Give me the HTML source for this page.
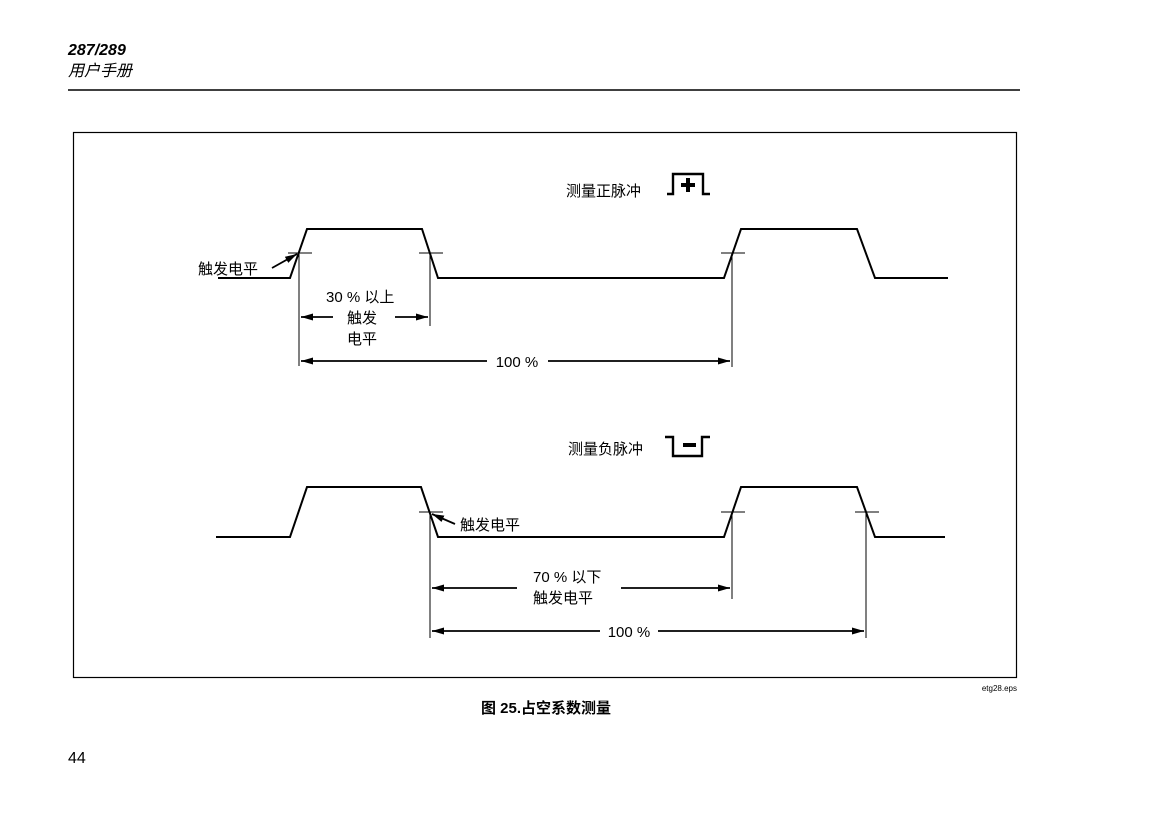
<!DOCTYPE html>
<html><head><meta charset="utf-8"><style>
body{margin:0;background:#fff;width:1164px;height:811px;overflow:hidden}
svg text{font-family:"Liberation Sans","Noto Sans CJK SC",sans-serif;fill:#000}
</style></head><body>
<svg width="1164" height="811" viewBox="0 0 1164 811" xmlns="http://www.w3.org/2000/svg">
<defs><marker id="a" markerWidth="12" markerHeight="7" refX="12" refY="3.5" orient="auto-start-reverse" markerUnits="userSpaceOnUse"><path d="M0,0 L12,3.5 L0,7 z" fill="#000"/></marker></defs>
<text x="68" y="55" font-size="16" font-weight="bold" font-style="italic">287/289</text>
<text x="68" y="76" font-size="16" font-style="italic">用户手册</text>
<line x1="68" y1="90" x2="1020" y2="90" stroke="#000" stroke-width="1.5"/>
<rect x="73.5" y="132.5" width="943" height="545" fill="none" stroke="#000" stroke-width="1.2"/>
<g fill="none" stroke="#000" stroke-width="2">
<polyline points="218,278 290,278 307,229 422,229 438,278 724,278 741,229 857,229 875,278 948,278"/>
<polyline points="216,537 290,537 307,487 421,487 438,537 724,537 741,487 857,487 875,537 945,537"/>
</g>
<g stroke="#000" stroke-width="1">
<line x1="288" y1="253" x2="312" y2="253"/><line x1="419" y1="253" x2="443" y2="253"/><line x1="721" y1="253" x2="745" y2="253"/>
<line x1="299" y1="253" x2="299" y2="366"/><line x1="430" y1="253" x2="430" y2="326"/><line x1="732" y1="253" x2="732" y2="367"/>
<line x1="419" y1="512" x2="443" y2="512"/><line x1="721" y1="512" x2="745" y2="512"/><line x1="855" y1="512" x2="879" y2="512"/>
<line x1="430" y1="512" x2="430" y2="638"/><line x1="732" y1="512" x2="732" y2="599"/><line x1="866" y1="512" x2="866" y2="638"/>
</g>
<g stroke="#000" stroke-width="1.8" marker-end="url(#a)">
<line x1="272" y1="268" x2="297" y2="254"/>
<line x1="333" y1="317" x2="301" y2="317"/><line x1="395" y1="317" x2="428" y2="317"/>
<line x1="487" y1="361" x2="301" y2="361"/><line x1="548" y1="361" x2="730" y2="361"/>
<line x1="455" y1="524" x2="432" y2="514"/>
<line x1="517" y1="588" x2="432" y2="588"/><line x1="621" y1="588" x2="730" y2="588"/>
<line x1="600" y1="631" x2="432" y2="631"/><line x1="658" y1="631" x2="864" y2="631"/>
</g>
<text x="198" y="274" font-size="15">触发电平</text>
<text x="326" y="302" font-size="15">30 % 以上</text>
<text x="347" y="323" font-size="15">触发</text>
<text x="347" y="344" font-size="15">电平</text>
<text x="517" y="367" font-size="15" text-anchor="middle">100 %</text>
<text x="566" y="196" font-size="15">测量正脉冲</text>
<path d="M667,194 H673 V174 H703 V194 H710" fill="none" stroke="#000" stroke-width="2.4"/>
<path d="M681,185 H695 M688,178 V192" stroke="#000" stroke-width="4"/>
<text x="568" y="454" font-size="15">测量负脉冲</text>
<path d="M665,437 H673 V456 H702 V437 H710" fill="none" stroke="#000" stroke-width="2.4"/>
<path d="M683,445 H696" stroke="#000" stroke-width="4"/>
<text x="460" y="530" font-size="15">触发电平</text>
<text x="533" y="582" font-size="15">70 % 以下</text>
<text x="533" y="603" font-size="15">触发电平</text>
<text x="629" y="637" font-size="15" text-anchor="middle">100 %</text>
<text x="1017" y="691" font-size="8" text-anchor="end" fill="#333">etg28.eps</text>
<text x="481" y="713" font-size="15" font-weight="bold">图 25.占空系数测量</text>
<text x="68" y="763" font-size="16">44</text>
</svg>
</body></html>
